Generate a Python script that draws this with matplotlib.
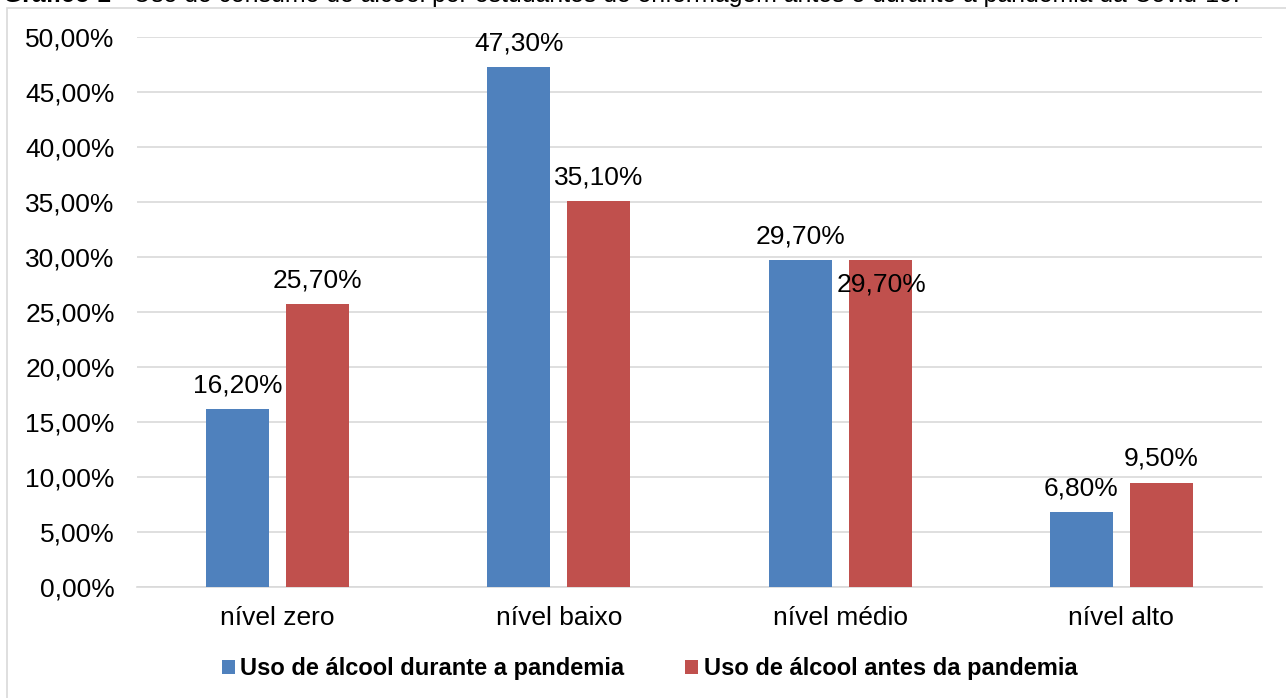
import matplotlib.pyplot as plt
from matplotlib.patches import Rectangle
import numpy as np

plt.rcParams['font.family'] = ['Liberation Sans', 'DejaVu Sans']

categorias = ['nível zero', 'nível baixo', 'nível médio', 'nível alto']
durante = [16.2, 47.3, 29.7, 6.8]
antes = [25.7, 35.1, 29.7, 9.5]
serie_nomes = ['Uso de álcool durante a pandemia', 'Uso de álcool antes da pandemia']
titulo_a = 'Gráfico 1'
titulo_b = ' - Uso de consumo de álcool por estudantes de enfermagem antes e durante a pandemia da Covid-19.'

azul = '#4f81bd'
vermelho = '#c0504d'

fig = plt.figure(figsize=(12.86, 6.98), dpi=100)
# moldura do grafico
fig.patches.append(Rectangle((7 / 1286, -0.1), 1.2, 1.1 - 8 / 698, transform=fig.transFigure,
                             fill=False, edgecolor='#d9d9d9', linewidth=1.2))

ax = fig.add_axes([137 / 1286, 111 / 698, 1125 / 1286, 550 / 698])

# titulo (cortado no topo, como no original)
t1 = fig.text(3 / 1286, 1 - 7 / 698, titulo_a, fontsize=17.9, fontweight='bold', ha='left', va='bottom')
ax.annotate(titulo_b, xy=(1, 0), xycoords=t1, fontsize=17.9, ha='left', va='bottom',
            annotation_clip=False)

x = np.arange(len(categorias))
w = 0.224
off = 0.142
b1 = ax.bar(x - off, durante, w, color=azul, label=serie_nomes[0], zorder=3)
b2 = ax.bar(x + off, antes, w, color=vermelho, label=serie_nomes[1], zorder=3)

def fmt(v):
    return f'{v:.2f}%'.replace('.', ',')

fs = 19
for rect, v in zip(b1, durante):
    ax.annotate(fmt(v), (rect.get_x() + rect.get_width() / 2, v), xytext=(0, 12),
                textcoords='offset points', ha='center', va='baseline', fontsize=fs)
for i, (rect, v) in enumerate(zip(b2, antes)):
    if v == durante[i]:
        # rotulo sobreposto desce para dentro da barra
        ax.annotate(fmt(v), (rect.get_x() + rect.get_width() / 2, v), xytext=(1, -22.5),
                    textcoords='offset points', ha='center', va='baseline', fontsize=fs)
    else:
        ax.annotate(fmt(v), (rect.get_x() + rect.get_width() / 2, v), xytext=(0, 12),
                    textcoords='offset points', ha='center', va='baseline', fontsize=fs)

ax.set_xlim(-0.5, len(categorias) - 0.5)
ax.set_ylim(0, 50)
ax.set_yticks(np.arange(0, 51, 5))
ax.set_yticklabels([fmt(t) for t in np.arange(0, 51, 5)], fontsize=fs)
ax.set_xticks(x)
ax.set_xticklabels(categorias, fontsize=19)
ax.tick_params(axis='both', length=0)
ax.tick_params(axis='y', pad=16)
ax.tick_params(axis='x', pad=13.5)
ax.grid(axis='y', color='#d9d9d9', linewidth=1.2, zorder=0)
for s in ['top', 'right', 'left']:
    ax.spines[s].set_visible(False)
ax.spines['bottom'].set_color('#d9d9d9')
ax.spines['bottom'].set_linewidth(1.2)

leg = fig.legend(loc='center', bbox_to_anchor=(0.505, 29 / 698), ncol=2, frameon=False,
                 prop={'size': 17, 'weight': 'bold'}, handlelength=0.55, handleheight=0.55,
                 handletextpad=0.22, columnspacing=2.6)

fig.savefig('out.png', dpi=100)
